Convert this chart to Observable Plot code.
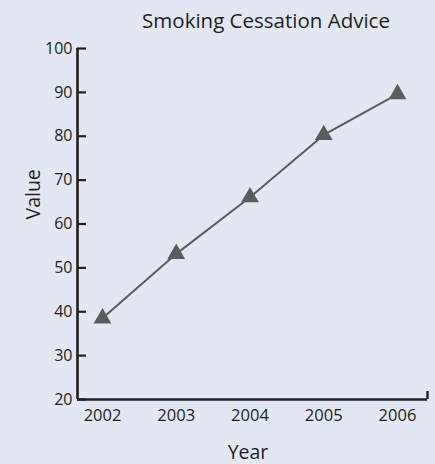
<!DOCTYPE html>
<html>
<head>
<meta charset="utf-8">
<script src="https://cdn.jsdelivr.net/npm/d3@7"></script>
<script src="https://cdn.jsdelivr.net/npm/@observablehq/plot@0.6"></script>
<style>
  html, body { margin: 0; padding: 0; background: #e2e7f3; }
  body { width: 435px; height: 464px; position: relative; overflow: hidden; font-family: "Open Sans", sans-serif; }
  #title { position: absolute; left: 0; top: 0; width: 435px; box-sizing: border-box; padding-left: 97px; text-align: center; line-height: 41px; font-size: 20.5px; color: #231f20; }
  #chart { position: absolute; left: 0; top: 0; }
</style>
</head>
<body>
<div id="title">Smoking Cessation Advice</div>
<div id="chart"></div>
<script>
const years = [2002, 2003, 2004, 2005, 2006];
const values = [38.5, 53.2, 66.1, 80.3, 89.6];
const yTicks = [20, 30, 40, 50, 60, 70, 80, 90, 100];
const xTicks = years;
const xLabel = "Year";
const yLabel = "Value";

const data = years.map((y, i) => ({year: y, value: values[i]}));
const ink = "#231f20";
const seriesColor = "#5c5c5c";
const xDomain = [2001.661, 2006.407];
const yDomain = [20, 100];

const chart = Plot.plot({
  width: 435,
  height: 464,
  marginTop: 48,
  marginBottom: 65,
  marginLeft: 77,
  marginRight: 8,
  style: {background: "transparent", fontFamily: "Open Sans, sans-serif", color: ink, overflow: "visible"},
  x: {type: "linear", domain: xDomain},
  y: {domain: yDomain},
  marks: [
    Plot.axisY({ticks: yTicks, tickSize: 0, tickPadding: 5, fontSize: 16, label: null, tickFormat: d => String(d)}),
    Plot.axisX({ticks: xTicks, tickSize: 0, tickPadding: 10, fontSize: 16.5, label: null, tickFormat: d => String(d)}),
    Plot.tickY(yTicks, {y: d => d, stroke: ink, strokeWidth: 2.2, insetRight: 341}),
    Plot.ruleY([yDomain[0]], {stroke: ink, strokeWidth: 2.4}),
    Plot.ruleX([xDomain[0]], {stroke: ink, strokeWidth: 2.6, y1: yDomain[0], y2: yDomain[1]}),
    Plot.tickX([xDomain[1]], {stroke: ink, strokeWidth: 2.4, insetTop: 343}),
    Plot.line(data, {x: "year", y: "value", stroke: seriesColor, strokeWidth: 2}),
    Plot.dot(data, {x: "year", y: "value", symbol: "triangle", r: 6.6, fill: seriesColor, stroke: "none"}),
    Plot.text([xLabel], {frameAnchor: "bottom", dy: 53.5, dx: -4.5, fontSize: 19.5, fill: ink, lineAnchor: "middle"}),
    Plot.text([yLabel], {frameAnchor: "left", rotate: -90, dx: -44, dy: -4.5, fontSize: 19.5, fill: ink, lineAnchor: "middle"})
  ]
});
document.getElementById("chart").append(chart);
</script>
</body>
</html>
